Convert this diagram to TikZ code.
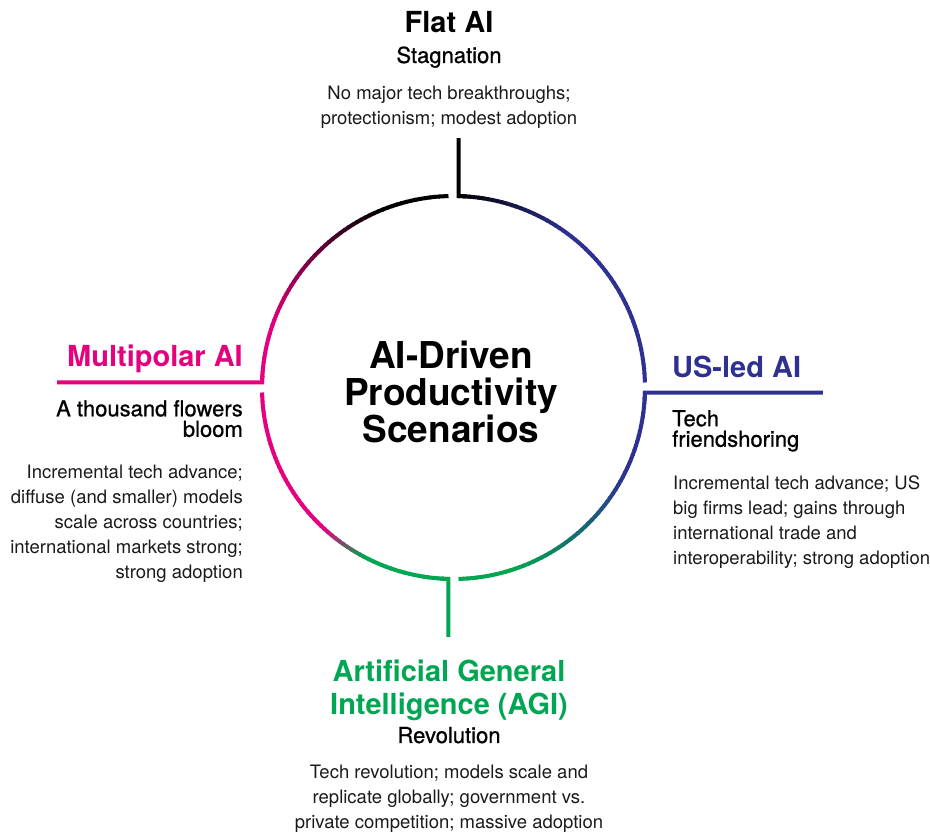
\documentclass[tikz,border=0pt]{standalone}
\usepackage{fontspec}
\setmainfont{TeX Gyre Heros}
\newfontfamily\moyen[FakeBold=0.8]{TeX Gyre Heros}
\usepackage{xcolor}
\usepackage{tikz}
\usetikzlibrary{calc}
\definecolor{rose}{HTML}{E5007E}
\definecolor{marine}{HTML}{2E3192}
\definecolor{vert}{HTML}{00A651}
\definecolor{encre}{HTML}{1A1A1A}
\tikzset{
	titre/.style={font=\bfseries\fontsize{29}{33}\selectfont, inner sep=0pt}, % noms des scénarios
	soustitre/.style={font=\moyen\fontsize{22}{20.5}\selectfont, inner sep=0pt}, % sous-titres
	texte/.style={font=\fontsize{18.5}{25}\selectfont, text=encre, inner sep=0pt}, % descriptions
	trait/.style={line width=4pt}, % épaisseur du cercle et des branches
}
\begin{document}
\begin{tikzpicture}[x=1pt, y=1pt]
			\useasboundingbox (0,0) rectangle (930,836);
			\coordinate (c) at (453.5,448.5);
			
			% Arcs en dégradé
			\foreach \a/\b/\cA/\cB/\s/\e in {178.5/91.5/rose/black/0.2/0.75, 88.5/1.5/black/marine/0.0/0.4, -1.5/-88.5/marine/vert/0.3/0.8, -91.5/-178.5/vert/rose/0.3/0.47}
			\foreach \i in {0,...,59}{
				\pgfmathsetmacro\ta{\a+(\b-\a)*\i/60}
				\pgfmathsetmacro\tb{\a+(\b-\a)*min(\i+1.3,60)/60}
				\pgfmathsetmacro\p{max(0,min(100,((\i+0.5)/60-\s)/(\e-\s)*100))}
				\draw[trait, draw=\cB!\p!\cA] ($(c)+(\ta:191.5)$) arc[start angle=\ta, end angle=\tb, radius=191.5];
			}
			
			% Branches
			\coordinate (haut) at ($(c)+(88.5:191.5)$);
			\coordinate (haut-bout) at ($(haut)+(0,58)$);
			\coordinate (droite) at ($(c)+(-1.5:191.5)$);
			\coordinate (droite-bout) at ($(droite)+(178,0)$);
			\coordinate (bas) at ($(c)+(-91.5:191.5)$);
			\coordinate (bas-bout) at ($(bas)+(0,-58)$);
			\coordinate (gauche) at ($(c)+(178.5:191.5)$);
			\coordinate (gauche-bout) at ($(gauche)+(-205,0)$);
			\draw[trait, black] (haut-bout) -- (haut) arc[start angle=88.5, end angle=86, radius=191.5];
			\draw[trait, marine] (droite-bout) -- (droite) arc[start angle=-1.5, end angle=-4, radius=191.5];
			\draw[trait, vert] (bas-bout) -- (bas) arc[start angle=-91.5, end angle=-94, radius=191.5];
			\draw[trait, rose] (gauche-bout) -- (gauche) arc[start angle=178.5, end angle=176, radius=191.5];
			
			% Centre
			\node[font=\bfseries\fontsize{37}{37}\selectfont, align=center, anchor=north, inner sep=0pt] (centre) at (451,495) {AI-Driven\\Productivity\\Scenarios};
			
			% Flat AI
			\node[titre, anchor=base] (flat) at (449,803) {Flat AI};
			\node[soustitre, anchor=base] (stagnation) at (449,773) {Stagnation};
			\node[texte, align=center, anchor=north] (flat-texte) at (449,750) {No major tech breakthroughs;\\protectionism; modest adoption};
			
			% US-led AI
			\node[titre, marine, anchor=base west] (us) at (672,458) {US-led AI};
			\node[soustitre, align=left, anchor=north west] (friend) at (672,426) {Tech\\friendshoring};
			\node[texte, align=left, anchor=north west] (us-texte) at (673,361) {Incremental tech advance; US\\big firms lead; gains through\\international trade and\\interoperability; strong adoption};
			
			% AGI
			\node[titre, vert, align=center, anchor=north] (agi) at (449,176) {Artificial General\\Intelligence (AGI)};
			\node[soustitre, anchor=base] (revolution) at (449,93) {Revolution};
			\node[texte, align=center, anchor=north] (agi-texte) at (449,71) {Tech revolution; models scale and\\replicate globally; government vs.\\private competition; massive adoption};
			
			% Multipolar AI
			\node[titre, rose, anchor=base east] (multi) at (243,469) {Multipolar AI};
			\node[soustitre, align=right, anchor=north east] (fleurs) at (243,436) {A thousand flowers\\bloom};
			\node[texte, align=right, anchor=north east] (multi-texte) at (243,371) {Incremental tech advance;\\diffuse (and smaller) models\\scale across countries;\\international markets strong;\\strong adoption};
		\end{tikzpicture}
\end{document}
